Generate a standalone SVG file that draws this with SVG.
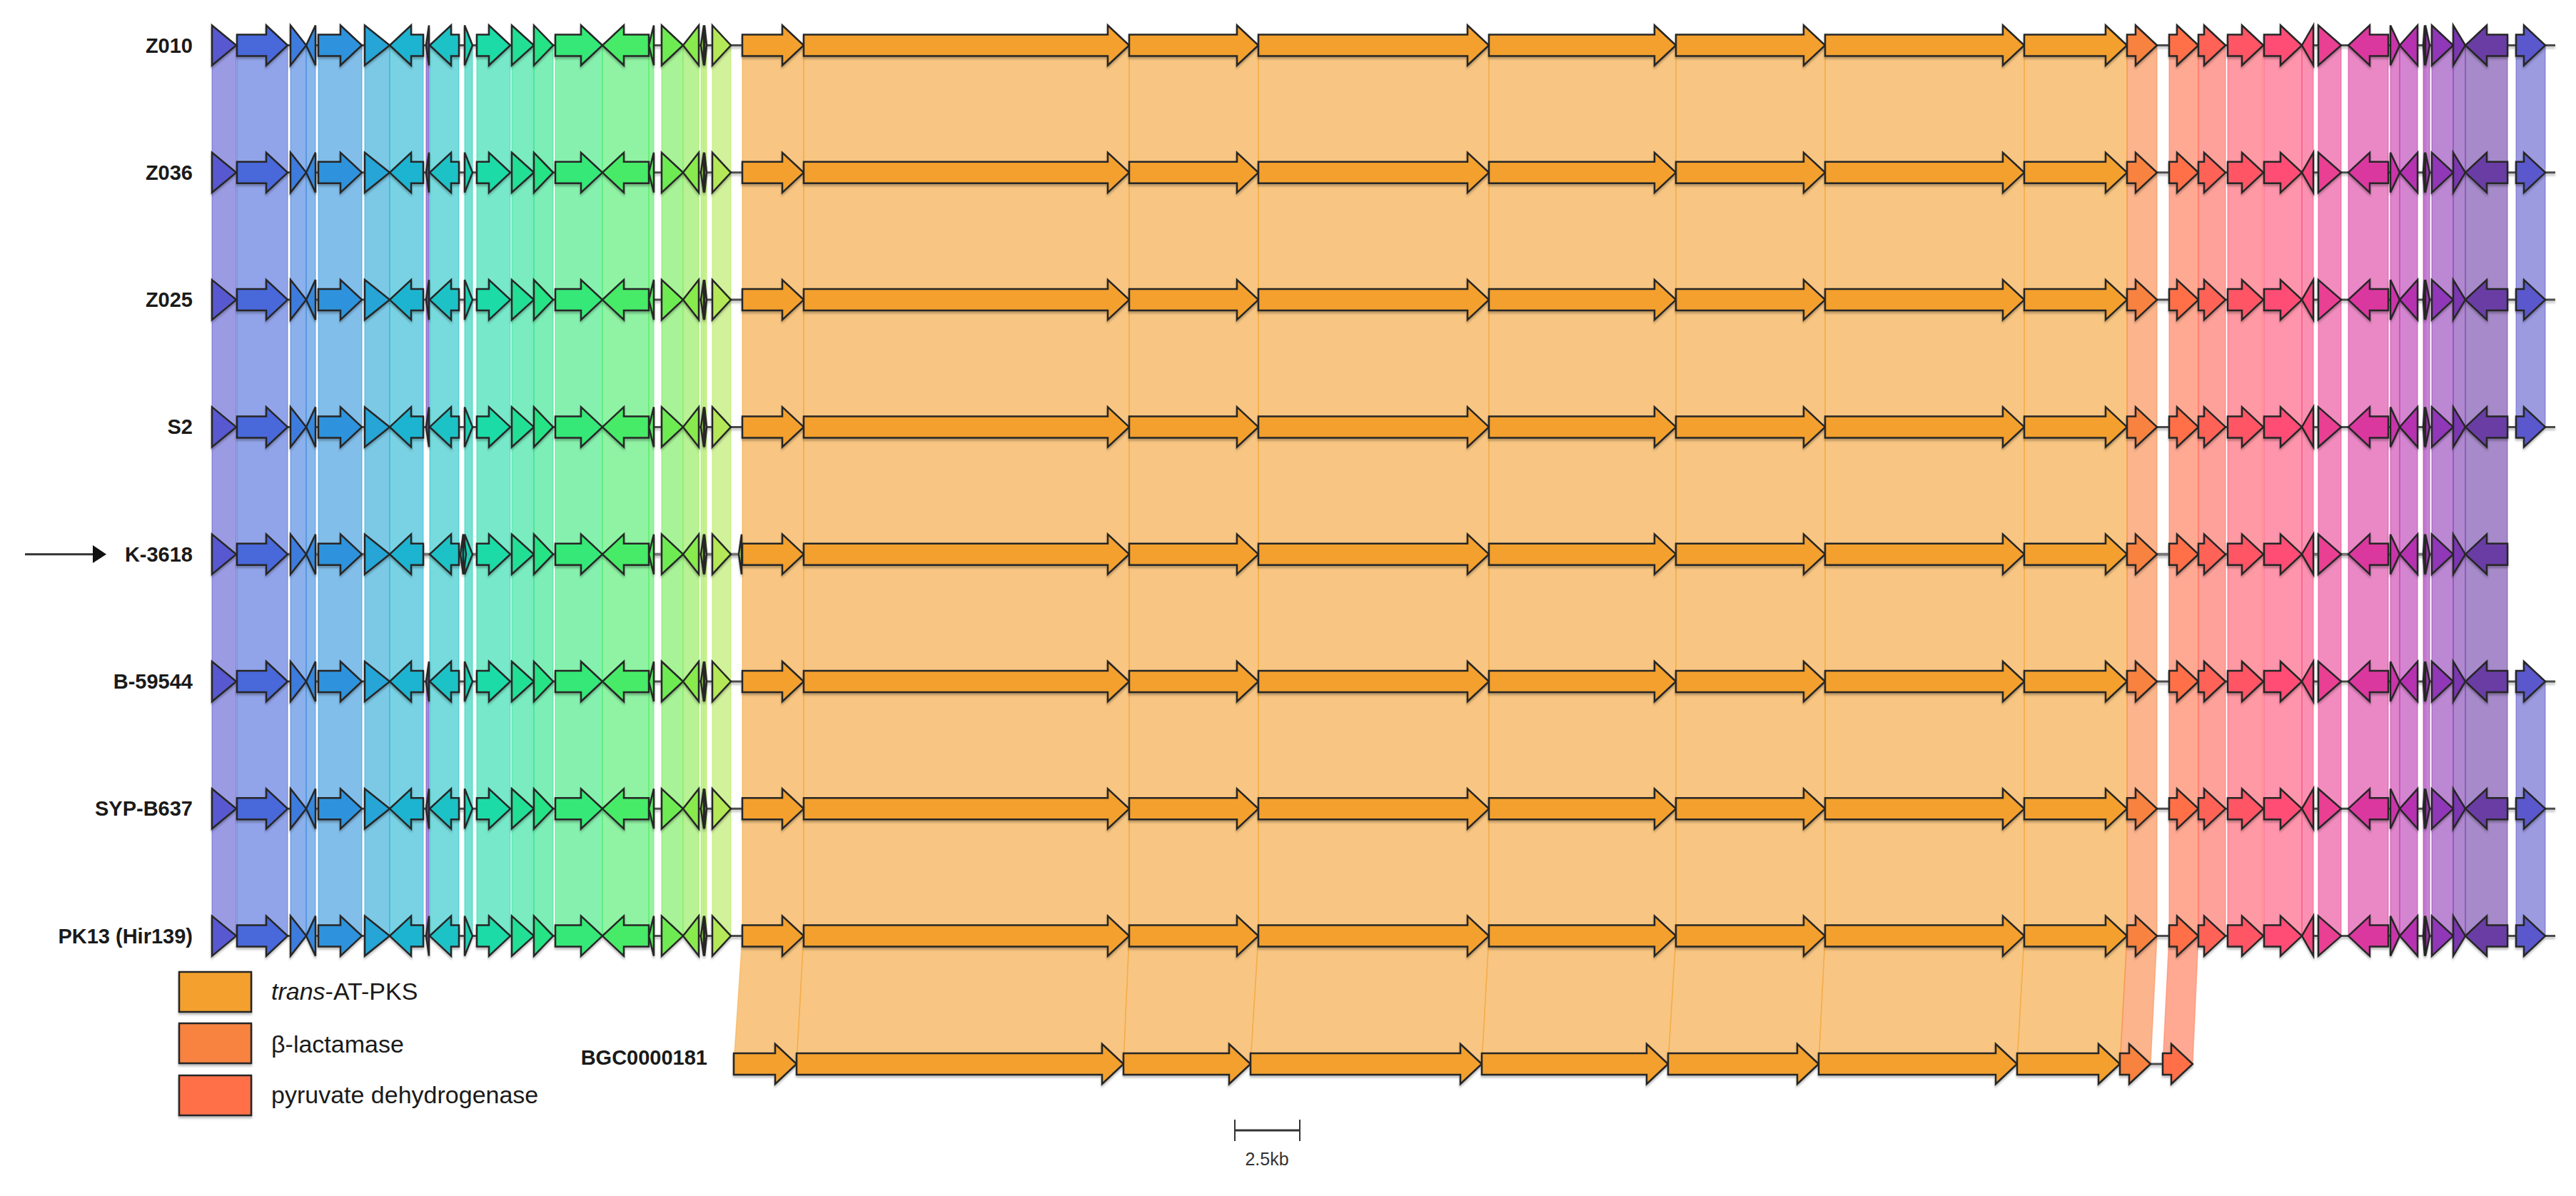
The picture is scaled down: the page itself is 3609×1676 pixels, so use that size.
<svg xmlns="http://www.w3.org/2000/svg" xmlns:xlink="http://www.w3.org/1999/xlink" width="3609" height="1676" viewBox="0 0 3609 1676">
<defs>
<style>
.lbl{font-family:"Liberation Sans",Arial,sans-serif;font-weight:bold;font-size:29px;fill:#1a1a1a;text-anchor:end}
.leg{font-family:"Liberation Sans",Arial,sans-serif;font-size:34px;fill:#1a1a1a}
.sc{font-family:"Liberation Sans",Arial,sans-serif;font-size:25px;fill:#333;text-anchor:middle}
.bb{stroke:#4d4d4d;stroke-width:3;fill:none}
.genes polygon,.legbox rect{stroke:#262626;stroke-width:2.5;stroke-linejoin:miter}
.bands rect,.bands polygon{fill-opacity:.6;stroke-opacity:.45;stroke-width:1.5}
.k1{fill:#5858D0;stroke:#5858D0}.k2{fill:#4A68DA;stroke:#4A68DA}.k3{fill:#3E7BDD;stroke:#3E7BDD}.k4{fill:#3888DE;stroke:#3888DE}
.k5{fill:#2F93DC;stroke:#2F93DC}.k6{fill:#25A5D6;stroke:#25A5D6}.k7{fill:#1FB4D0;stroke:#1FB4D0}.k8{fill:#7040C0;stroke:#7040C0}
.k9{fill:#1CC2C6;stroke:#1CC2C6}.k10{fill:#1ACFB4;stroke:#1ACFB4}.k11{fill:#1DDBA6;stroke:#1DDBA6}.k12{fill:#22DF95;stroke:#22DF95}
.k13{fill:#26E385;stroke:#26E385}.k14{fill:#36E878;stroke:#36E878}.k15{fill:#46EB68;stroke:#46EB68}.k16{fill:#52EA5E;stroke:#52EA5E}
.k17{fill:#6EEB52;stroke:#6EEB52}.k18{fill:#88EA4E;stroke:#88EA4E}.k19{fill:#9CE94C;stroke:#9CE94C}.k20{fill:#A6E84E;stroke:#A6E84E}
.k21{fill:#B4E858;stroke:#B4E858}.ko{fill:#F3A02F;stroke:#F3A02F}.kb{fill:#F88240;stroke:#F88240}.kp{fill:#FF7049;stroke:#FF7049}
.r1{fill:#FF6358;stroke:#FF6358}.r2{fill:#FF5565;stroke:#FF5565}.r3{fill:#FF4E74;stroke:#FF4E74}.r4{fill:#F6477F;stroke:#F6477F}
.r5{fill:#EA3F93;stroke:#EA3F93}.r6{fill:#DA389F;stroke:#DA389F}.r7{fill:#C934A9;stroke:#C934A9}.r8{fill:#B733B1;stroke:#B733B1}
.r9{fill:#A632B5;stroke:#A632B5}.r10{fill:#A032B6;stroke:#A032B6}.r11{fill:#9038B8;stroke:#9038B8}.r12{fill:#7B39B0;stroke:#7B39B0}
.r13{fill:#6A3CA5;stroke:#6A3CA5}.r14{fill:#5A58CC;stroke:#5A58CC}
</style>
<filter id="sh" x="-2%" y="-30%" width="104%" height="160%">
<feDropShadow dx="0" dy="3" stdDeviation="1.5" flood-color="#000" flood-opacity="0.25"/>
</filter>
<g id="gA" class="genes">
<polygon class="k1" points="297,-28 331,0 297,28"/>
<polygon class="k2" points="332,-15 373,-15 373,-28 403,0 373,28 373,15 332,15"/>
<polygon class="k3" points="407,-28 429,0 407,28"/>
<polygon class="k4" points="442,-28 429,0 442,28"/>
<polygon class="k5" points="446,-15 477,-15 477,-28 507,0 477,28 477,15 446,15"/>
<polygon class="k6" points="511,-28 546,0 511,28"/>
<polygon class="k7" points="593,-15 576,-15 576,-28 546,0 576,28 576,15 593,15"/>
</g>
<g id="g8" class="genes"><polygon class="k8" points="601,-28 597,0 601,28"/></g>
<g id="gB" class="genes">
<polygon class="k9" points="643,-15 632,-15 632,-28 602,0 632,28 632,15 643,15"/>
<polygon class="k10" points="651,-28 662,0 651,28"/>
<polygon class="k11" points="668,-15 685,-15 685,-28 715,0 685,28 685,15 668,15"/>
<polygon class="k12" points="717,-28 748,0 717,28"/>
<polygon class="k13" points="748,-28 775,0 748,28"/>
<polygon class="k14" points="778,-15 814,-15 814,-28 844,0 814,28 814,15 778,15"/>
<polygon class="k15" points="909,-15 874,-15 874,-28 844,0 874,28 874,15 909,15"/>
<polygon class="k16" points="916,-28 909,0 916,28"/>
<polygon class="k17" points="927,-28 957,0 927,28"/>
<polygon class="k18" points="979,-28 957,0 979,28"/>
<polygon class="k19" points="986,-28 982,0 986,28"/>
<polygon class="k20" points="987,-28 990,0 987,28"/>
<polygon class="k21" points="998,-28 1024,0 998,28"/>
<polygon class="ko" points="1040,-15 1096,-15 1096,-28 1126,0 1096,28 1096,15 1040,15"/>
<polygon class="ko" points="1126,-15 1552,-15 1552,-28 1582,0 1552,28 1552,15 1126,15"/>
<polygon class="ko" points="1582,-15 1733,-15 1733,-28 1763,0 1733,28 1733,15 1582,15"/>
<polygon class="ko" points="1763,-15 2056,-15 2056,-28 2086,0 2056,28 2056,15 1763,15"/>
<polygon class="ko" points="2086,-15 2318,-15 2318,-28 2348,0 2318,28 2318,15 2086,15"/>
<polygon class="ko" points="2348,-15 2527,-15 2527,-28 2557,0 2527,28 2527,15 2348,15"/>
<polygon class="ko" points="2557,-15 2806,-15 2806,-28 2836,0 2806,28 2806,15 2557,15"/>
<polygon class="ko" points="2836,-15 2950,-15 2950,-28 2980,0 2950,28 2950,15 2836,15"/>
<polygon class="kb" points="2980,-15 2992,-15 2992,-28 3022,0 2992,28 2992,15 2980,15"/>
<polygon class="kp" points="3039,-15 3050,-15 3050,-28 3080,0 3050,28 3050,15 3039,15"/>
<polygon class="r1" points="3080,-15 3088,-15 3088,-28 3118,0 3088,28 3088,15 3080,15"/>
<polygon class="r2" points="3121,-15 3141,-15 3141,-28 3171,0 3141,28 3141,15 3121,15"/>
<polygon class="r3" points="3172,-15 3195,-15 3195,-28 3225,0 3195,28 3195,15 3172,15"/>
<polygon class="r4" points="3241,-28 3225,0 3241,28"/>
<polygon class="r5" points="3248,-28 3280,0 3248,28"/>
<polygon class="r6" points="3346,-15 3320,-15 3320,-28 3290,0 3320,28 3320,15 3346,15"/>
<polygon class="r7" points="3349,-28 3362,0 3349,28"/>
<polygon class="r8" points="3387,-28 3362,0 3387,28"/>
<polygon class="r9" points="3397,-28 3395,0 3397,28"/>
<polygon class="r10" points="3398,-28 3404,0 3398,28"/>
<polygon class="r11" points="3407,-28 3437,0 3407,28"/>
<polygon class="r12" points="3437,-28 3454,0 3437,28"/>
<polygon class="r13" points="3513,-15 3484,-15 3484,-28 3454,0 3484,28 3484,15 3513,15"/>
</g>
<g id="g14" class="genes"><polygon class="r14" points="3525,-15 3536,-15 3536,-28 3566,0 3536,28 3536,15 3525,15"/></g>
<g id="bA" class="bands">
<rect class="k1" x="297" y="0" width="34" height="178.3"/>
<rect class="k2" x="332" y="0" width="71" height="178.3"/>
<rect class="k3" x="407" y="0" width="22" height="178.3"/>
<rect class="k4" x="429" y="0" width="13" height="178.3"/>
<rect class="k5" x="446" y="0" width="61" height="178.3"/>
<rect class="k6" x="511" y="0" width="35" height="178.3"/>
<rect class="k7" x="546" y="0" width="47" height="178.3"/>
<rect class="k9" x="602" y="0" width="41" height="178.3"/>
<rect class="k10" x="651" y="0" width="11" height="178.3"/>
<rect class="k11" x="668" y="0" width="47" height="178.3"/>
<rect class="k12" x="717" y="0" width="31" height="178.3"/>
<rect class="k13" x="748" y="0" width="27" height="178.3"/>
<rect class="k14" x="778" y="0" width="66" height="178.3"/>
<rect class="k15" x="844" y="0" width="65" height="178.3"/>
<rect class="k16" x="909" y="0" width="7" height="178.3"/>
<rect class="k17" x="927" y="0" width="30" height="178.3"/>
<rect class="k18" x="957" y="0" width="22" height="178.3"/>
<rect class="k19" x="982" y="0" width="4" height="178.3"/>
<rect class="k20" x="987" y="0" width="3" height="178.3"/>
<rect class="k21" x="998" y="0" width="26" height="178.3"/>
<rect class="ko" x="1040" y="0" width="86" height="178.3"/>
<rect class="ko" x="1126" y="0" width="456" height="178.3"/>
<rect class="ko" x="1582" y="0" width="181" height="178.3"/>
<rect class="ko" x="1763" y="0" width="323" height="178.3"/>
<rect class="ko" x="2086" y="0" width="262" height="178.3"/>
<rect class="ko" x="2348" y="0" width="209" height="178.3"/>
<rect class="ko" x="2557" y="0" width="279" height="178.3"/>
<rect class="ko" x="2836" y="0" width="144" height="178.3"/>
<rect class="kb" x="2980" y="0" width="42" height="178.3"/>
<rect class="kp" x="3039" y="0" width="41" height="178.3"/>
<rect class="r1" x="3080" y="0" width="38" height="178.3"/>
<rect class="r2" x="3121" y="0" width="50" height="178.3"/>
<rect class="r3" x="3172" y="0" width="53" height="178.3"/>
<rect class="r4" x="3225" y="0" width="16" height="178.3"/>
<rect class="r5" x="3248" y="0" width="32" height="178.3"/>
<rect class="r6" x="3290" y="0" width="56" height="178.3"/>
<rect class="r7" x="3349" y="0" width="13" height="178.3"/>
<rect class="r8" x="3362" y="0" width="25" height="178.3"/>
<rect class="r9" x="3395" y="0" width="2" height="178.3"/>
<rect class="r10" x="3398" y="0" width="6" height="178.3"/>
<rect class="r11" x="3407" y="0" width="30" height="178.3"/>
<rect class="r12" x="3437" y="0" width="17" height="178.3"/>
<rect class="r13" x="3454" y="0" width="59" height="178.3"/>
</g>
<g id="b8" class="bands"><rect class="k8" x="597" y="0" width="4" height="178.3"/></g>
<g id="b14" class="bands"><rect class="r14" x="3525" y="0" width="41" height="178.3"/></g>
</defs>

<rect width="3609" height="1676" fill="#fff"/>

<g id="connectors" class="bands">
<use xlink:href="#bA" href="#bA" transform="translate(0,63.5)"/><use xlink:href="#b8" href="#b8" transform="translate(0,63.5)"/><use xlink:href="#b14" href="#b14" transform="translate(0,63.5)"/>
<use xlink:href="#bA" href="#bA" transform="translate(0,241.8)"/><use xlink:href="#b8" href="#b8" transform="translate(0,241.8)"/><use xlink:href="#b14" href="#b14" transform="translate(0,241.8)"/>
<use xlink:href="#bA" href="#bA" transform="translate(0,420.1)"/><use xlink:href="#b8" href="#b8" transform="translate(0,420.1)"/><use xlink:href="#b14" href="#b14" transform="translate(0,420.1)"/>
<use xlink:href="#bA" href="#bA" transform="translate(0,598.4)"/>
<use xlink:href="#bA" href="#bA" transform="translate(0,776.7)"/>
<use xlink:href="#bA" href="#bA" transform="translate(0,955)"/><use xlink:href="#b8" href="#b8" transform="translate(0,955)"/><use xlink:href="#b14" href="#b14" transform="translate(0,955)"/>
<use xlink:href="#bA" href="#bA" transform="translate(0,1133.3)"/><use xlink:href="#b8" href="#b8" transform="translate(0,1133.3)"/><use xlink:href="#b14" href="#b14" transform="translate(0,1133.3)"/>
<polygon class="ko" points="1040,1311.6 1126,1311.6 1116,1491 1028,1491"/>
<polygon class="ko" points="1126,1311.6 1582,1311.6 1574,1491 1116,1491"/>
<polygon class="ko" points="1582,1311.6 1763,1311.6 1752,1491 1574,1491"/>
<polygon class="ko" points="1763,1311.6 2086,1311.6 2076,1491 1752,1491"/>
<polygon class="ko" points="2086,1311.6 2348,1311.6 2337,1491 2076,1491"/>
<polygon class="ko" points="2348,1311.6 2557,1311.6 2548,1491 2337,1491"/>
<polygon class="ko" points="2557,1311.6 2836,1311.6 2826,1491 2548,1491"/>
<polygon class="ko" points="2836,1311.6 2980,1311.6 2970,1491 2826,1491"/>
<polygon class="kb" points="2980,1311.6 3022,1311.6 3013,1491 2970,1491"/>
<polygon class="kp" points="3039,1311.6 3080,1311.6 3072,1491 3030,1491"/>
</g>

<g id="row-Z010" class="genes" transform="translate(0,63.5)">
<text class="lbl" x="270" y="10">Z010</text>
<g filter="url(#sh)"><line class="bb" x1="297" y1="0" x2="3580" y2="0"/><use xlink:href="#gA" href="#gA"/><use xlink:href="#g8" href="#g8"/><use xlink:href="#gB" href="#gB"/><use xlink:href="#g14" href="#g14"/></g>
</g>
<g id="row-Z036" class="genes" transform="translate(0,241.8)">
<text class="lbl" x="270" y="10">Z036</text>
<g filter="url(#sh)"><line class="bb" x1="297" y1="0" x2="3580" y2="0"/><use xlink:href="#gA" href="#gA"/><use xlink:href="#g8" href="#g8"/><use xlink:href="#gB" href="#gB"/><use xlink:href="#g14" href="#g14"/></g>
</g>
<g id="row-Z025" class="genes" transform="translate(0,420.1)">
<text class="lbl" x="270" y="10">Z025</text>
<g filter="url(#sh)"><line class="bb" x1="297" y1="0" x2="3580" y2="0"/><use xlink:href="#gA" href="#gA"/><use xlink:href="#g8" href="#g8"/><use xlink:href="#gB" href="#gB"/><use xlink:href="#g14" href="#g14"/></g>
</g>
<g id="row-S2" class="genes" transform="translate(0,598.4)">
<text class="lbl" x="270" y="10">S2</text>
<g filter="url(#sh)"><line class="bb" x1="297" y1="0" x2="3580" y2="0"/><use xlink:href="#gA" href="#gA"/><use xlink:href="#g8" href="#g8"/><use xlink:href="#gB" href="#gB"/><use xlink:href="#g14" href="#g14"/></g>
</g>
<g id="row-K-3618" class="genes" transform="translate(0,776.7)">
<text class="lbl" x="270" y="10">K-3618</text>
<g filter="url(#sh)"><line x1="297" y1="0" x2="3513" y2="0" stroke="#777" stroke-width="4"/><use xlink:href="#gA" href="#gA"/><use xlink:href="#gB" href="#gB"/>
<polygon class="k9" points="649,-28 645,0 649,28"/><polygon class="k10" points="649,-28 653,0 649,28"/><polygon class="k21" points="1039,-28 1035,0 1039,28"/></g>
</g>
<g id="row-B-59544" class="genes" transform="translate(0,955)">
<text class="lbl" x="270" y="10">B-59544</text>
<g filter="url(#sh)"><line class="bb" x1="297" y1="0" x2="3580" y2="0"/><use xlink:href="#gA" href="#gA"/><use xlink:href="#g8" href="#g8"/><use xlink:href="#gB" href="#gB"/><use xlink:href="#g14" href="#g14"/></g>
</g>
<g id="row-SYP-B637" class="genes" transform="translate(0,1133.3)">
<text class="lbl" x="270" y="10">SYP-B637</text>
<g filter="url(#sh)"><line class="bb" x1="297" y1="0" x2="3580" y2="0"/><use xlink:href="#gA" href="#gA"/><use xlink:href="#g8" href="#g8"/><use xlink:href="#gB" href="#gB"/><use xlink:href="#g14" href="#g14"/></g>
</g>
<g id="row-PK13" class="genes" transform="translate(0,1311.6)">
<text class="lbl" x="270" y="10">PK13 (Hir139)</text>
<g filter="url(#sh)"><line class="bb" x1="297" y1="0" x2="3580" y2="0"/><use xlink:href="#gA" href="#gA"/><use xlink:href="#g8" href="#g8"/><use xlink:href="#gB" href="#gB"/><use xlink:href="#g14" href="#g14"/></g>
</g>
<g id="row-BGC0000181" class="genes" transform="translate(0,1491)">
<text class="lbl" x="991" y="1">BGC0000181</text>
<g filter="url(#sh)"><line class="bb" x1="1028" y1="0" x2="3072" y2="0"/>
<polygon class="ko" points="1028,-15 1086,-15 1086,-28 1116,0 1086,28 1086,15 1028,15"/>
<polygon class="ko" points="1116,-15 1544,-15 1544,-28 1574,0 1544,28 1544,15 1116,15"/>
<polygon class="ko" points="1574,-15 1722,-15 1722,-28 1752,0 1722,28 1722,15 1574,15"/>
<polygon class="ko" points="1752,-15 2046,-15 2046,-28 2076,0 2046,28 2046,15 1752,15"/>
<polygon class="ko" points="2076,-15 2307,-15 2307,-28 2337,0 2307,28 2307,15 2076,15"/>
<polygon class="ko" points="2337,-15 2518,-15 2518,-28 2548,0 2518,28 2518,15 2337,15"/>
<polygon class="ko" points="2548,-15 2796,-15 2796,-28 2826,0 2796,28 2796,15 2548,15"/>
<polygon class="ko" points="2826,-15 2940,-15 2940,-28 2970,0 2940,28 2940,15 2826,15"/>
<polygon class="kb" points="2970,-15 2983,-15 2983,-28 3013,0 2983,28 2983,15 2970,15"/>
<polygon class="kp" points="3030,-15 3042,-15 3042,-28 3072,0 3042,28 3042,15 3030,15"/>
</g>
</g>

<g id="pointer">
<line x1="35" y1="776.7" x2="132" y2="776.7" stroke="#333" stroke-width="3"/>
<polygon points="130,764 149,776.7 130,789" fill="#111"/>
</g>

<g id="legend" class="legbox">
<rect class="ko" x="251" y="1362" width="101" height="56" filter="url(#sh)"/>
<rect class="kb" x="251" y="1434" width="101" height="56" filter="url(#sh)"/>
<rect class="kp" x="251" y="1507" width="101" height="56" filter="url(#sh)"/>
<text class="leg" x="380" y="1401"><tspan font-style="italic">trans</tspan>-AT-PKS</text>
<text class="leg" x="380" y="1475">β-lactamase</text>
<text class="leg" x="380" y="1546">pyruvate dehydrogenase</text>
</g>

<g id="scalebar">
<line x1="1730" y1="1584" x2="1821" y2="1584" stroke="#333" stroke-width="3"/>
<line x1="1730" y1="1569" x2="1730" y2="1599" stroke="#333" stroke-width="2"/>
<line x1="1821" y1="1569" x2="1821" y2="1599" stroke="#333" stroke-width="2"/>
<text class="sc" x="1775" y="1633">2.5kb</text>
</g>
</svg>
